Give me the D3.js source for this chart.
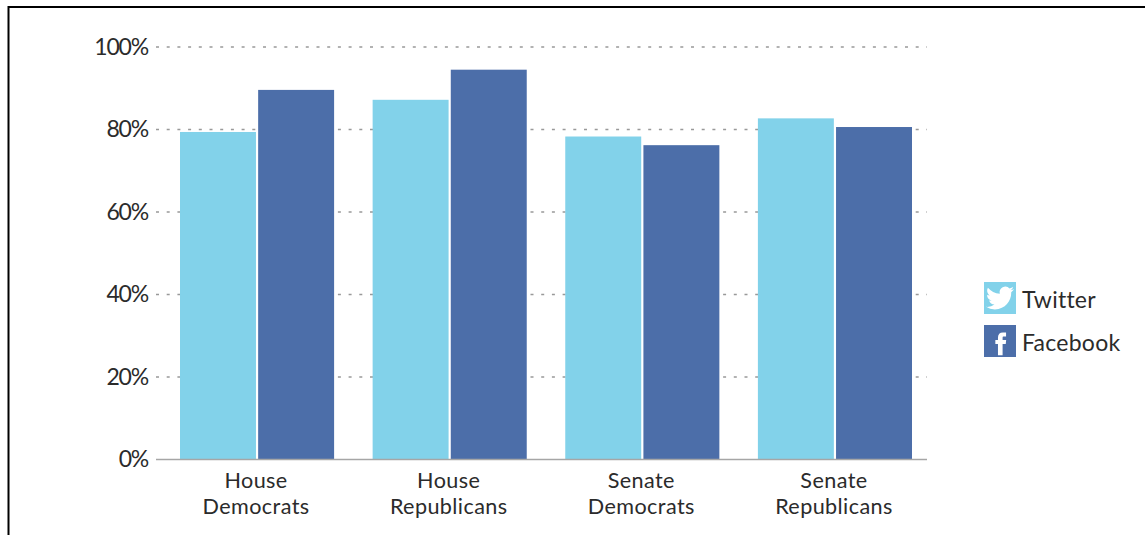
<!DOCTYPE html>
<html>
<head>
<meta charset="utf-8">
<script src="https://cdn.jsdelivr.net/npm/d3@7"></script>
<style>
html, body { margin: 0; padding: 0; background: #fff; overflow: hidden; }
svg text { font-family: "Lato", sans-serif; fill: #2b2b2b; }
</style>
</head>
<body>
<div id="chart"></div>
<script>
const categories = [['House', 'Democrats'], ['House', 'Republicans'], ['Senate', 'Democrats'], ['Senate', 'Republicans']];
const seriesNames = ['Twitter', 'Facebook'];
const twitterValues = [79.4, 87.2, 78.3, 82.7];
const facebookValues = [89.6, 94.5, 76.2, 80.6];
const yTicks = [0, 20, 40, 60, 80, 100];
const colors = ['#82d2ea', '#4c6ea9'];

const birdPath = 'M23.953 4.57a10 10 0 01-2.825.775 4.958 4.958 0 002.163-2.723c-.951.555-2.005.959-3.127 1.184a4.92 4.92 0 00-8.384 4.482C7.69 8.095 4.067 6.13 1.64 3.162a4.822 4.822 0 00-.666 2.475c0 1.71.87 3.213 2.188 4.096a4.904 4.904 0 01-2.228-.616v.06a4.923 4.923 0 003.946 4.827 4.996 4.996 0 01-2.212.085 4.936 4.936 0 004.604 3.417 9.867 9.867 0 01-6.102 2.105c-.39 0-.779-.023-1.17-.067a13.995 13.995 0 007.557 2.209c9.053 0 13.998-7.496 13.998-13.985 0-.21 0-.42-.015-.63A9.935 9.935 0 0024 4.59z';
const fPath = 'M14.5 8.2h2.7V4.3h-3c-3 0-4.7 1.9-4.7 4.7v2.4H7v3.9h2.5V26h4.4V15.3h3l.4-3.9h-3.4V9.3c0-.7.3-1.1.6-1.1z';

const svg = d3.select('#chart').append('svg')
    .attr('width', 1145)
    .attr('height', 535);

// outer frame, only top and left show in the picture
svg.append('path')
    .attr('d', 'M8.5,535V7H1145')
    .attr('fill', 'none')
    .attr('stroke', '#000')
    .attr('stroke-width', 2);

const x0 = d3.scaleBand()
    .domain(d3.range(categories.length))
    .range([180, 912])
    .paddingInner(0.2);

const x1 = d3.scaleBand()
    .domain(seriesNames)
    .range([0, x0.bandwidth()])
    .paddingInner(0.028);

const y = d3.scaleLinear()
    .domain([0, 100])
    .range([459.5, 47]);

// gridlines
svg.append('g')
    .selectAll('line')
    .data(yTicks.filter(d => d > 0))
    .enter()
    .append('line')
    .attr('x1', 156)
    .attr('x2', 927)
    .attr('y1', d => y(d))
    .attr('y2', d => y(d))
    .attr('stroke', '#999')
    .attr('stroke-width', 1.4)
    .attr('stroke-dasharray', '3 7.7');

// bars
const group = svg.append('g')
    .selectAll('g')
    .data(categories)
    .enter()
    .append('g')
    .attr('transform', (d, i) => `translate(${x0(i)},0)`);

group.append('rect')
    .attr('x', x1('Twitter'))
    .attr('width', x1.bandwidth())
    .attr('y', (d, i) => y(twitterValues[i]))
    .attr('height', (d, i) => y(0) - y(twitterValues[i]))
    .attr('fill', colors[0]);

group.append('rect')
    .attr('x', x1('Facebook'))
    .attr('width', x1.bandwidth())
    .attr('y', (d, i) => y(facebookValues[i]))
    .attr('height', (d, i) => y(0) - y(facebookValues[i]))
    .attr('fill', colors[1]);

// axis line
svg.append('line')
    .attr('x1', 156)
    .attr('x2', 927)
    .attr('y1', y(0))
    .attr('y2', y(0))
    .attr('stroke', '#a6a6a6')
    .attr('stroke-width', 1.5);

// y labels
svg.append('g')
    .selectAll('text')
    .data(yTicks)
    .enter()
    .append('text')
    .attr('x', 148)
    .attr('y', d => y(d) + 7.5)
    .attr('text-anchor', 'end')
    .attr('font-size', 23)
    .attr('letter-spacing', -1.2)
    .text(d => d + '%');

// x labels
const xLabel = svg.append('g')
    .selectAll('text')
    .data(categories)
    .enter()
    .append('text')
    .attr('text-anchor', 'middle')
    .attr('font-size', 21.6)
    .attr('letter-spacing', 0.4);

xLabel.append('tspan')
    .attr('x', (d, i) => x0(i) + x0.bandwidth() / 2 - 1)
    .attr('y', 488)
    .text(d => d[0]);

xLabel.append('tspan')
    .attr('x', (d, i) => x0(i) + x0.bandwidth() / 2 - 1)
    .attr('y', 514)
    .text(d => d[1]);

// legend
const legend = svg.append('g')
    .selectAll('g')
    .data(seriesNames)
    .enter()
    .append('g')
    .attr('transform', (d, i) => `translate(984,${i == 0 ? 282 : 325})`);

legend.append('rect')
    .attr('width', 32)
    .attr('height', 32)
    .attr('fill', (d, i) => colors[i]);

legend.filter(d => d == 'Twitter').append('path')
    .attr('d', birdPath)
    .attr('transform', 'translate(2,2) scale(1.17)')
    .attr('fill', '#fff');

legend.filter(d => d == 'Facebook').append('path')
    .attr('d', fPath)
    .attr('transform', 'translate(4,3) scale(1.05)')
    .attr('fill', '#fff');

legend.append('text')
    .attr('x', 38)
    .attr('y', 26)
    .attr('font-size', 23)
    .attr('letter-spacing', 0.25)
    .text(d => d);
</script>
</body>
</html>
